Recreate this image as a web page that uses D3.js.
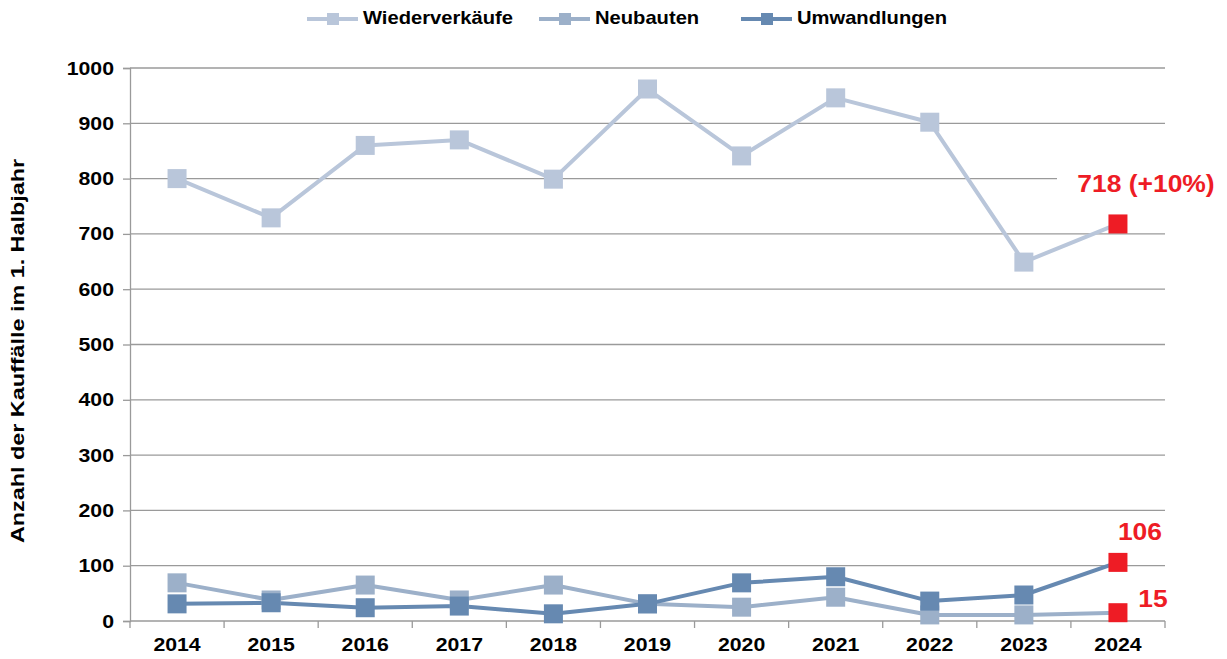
<!DOCTYPE html>
<html>
<head>
<meta charset="utf-8">
<script src="https://cdn.jsdelivr.net/npm/d3@7"></script>
<style>
  body { margin: 0; background: #fff; }
  svg { font-family: "Liberation Sans", Arial, sans-serif; }
</style>
</head>
<body>
<svg id="chart" width="1227" height="659"></svg>
<script>
const years = ["2014", "2015", "2016", "2017", "2018", "2019", "2020", "2021", "2022", "2023", "2024"];
const wiederverkaeufe = [800, 729, 860, 870, 799, 962, 841, 946, 902, 649, 718];
const neubauten = [69, 38, 65, 38, 65, 31, 25, 43, 11, 11, 15];
const umwandlungen = [31, 33, 24, 27, 13, 31, 69, 80, 36, 47, 106];
const yTicks = [0, 100, 200, 300, 400, 500, 600, 700, 800, 900, 1000];

const seriesNames = ["Wiederverkäufe", "Neubauten", "Umwandlungen"];
const seriesColors = ["#b9c6da", "#9cb0c9", "#6689b1"];
const highlight = "#ee1c25";

const svg = d3.select("#chart");
const margin = { top: 68, right: 62, bottom: 38, left: 130 };
const width = +svg.attr("width");
const height = +svg.attr("height");

const x = d3.scaleBand()
  .domain(years)
  .range([margin.left, width - margin.right]);

const y = d3.scaleLinear()
  .domain([0, 1000])
  .range([height - margin.bottom, margin.top]);

// grid
svg.append("g")
  .selectAll("line")
  .data(yTicks.slice(1))
  .join("line")
  .attr("x1", margin.left)
  .attr("x2", width - margin.right)
  .attr("y1", d => y(d))
  .attr("y2", d => y(d))
  .attr("stroke", "#9a9a9a")
  .attr("stroke-width", 1.3);

// y axis (labels a little wider than Liberation Sans, like the original)
svg.append("g")
  .attr("transform", `translate(${margin.left},0)`)
  .call(d3.axisLeft(y).tickValues(yTicks).tickFormat(d3.format("d")).tickSize(7).tickPadding(10))
  .call(g => g.selectAll(".domain, .tick line").attr("stroke", "#9a9a9a").attr("stroke-width", 1.3))
  .call(g => g.selectAll("text")
    .attr("font-size", 19).attr("font-weight", "bold").attr("fill", "#000")
    .attr("font-family", "'Liberation Sans', Arial, sans-serif")
    .attr("x", -16 / 1.12)
    .attr("transform", "scale(1.12,1)"));

// x axis
const xAxisG = svg.append("g")
  .attr("transform", `translate(0,${y(0)})`);
xAxisG.append("line")
  .attr("x1", margin.left).attr("x2", width - margin.right)
  .attr("stroke", "#9a9a9a").attr("stroke-width", 1.3);
xAxisG.selectAll(".tk")
  .data(years.concat(["end"]))
  .join("line")
  .attr("class", "tk")
  .attr("x1", (d, i) => margin.left + i * x.step())
  .attr("x2", (d, i) => margin.left + i * x.step())
  .attr("y1", 0).attr("y2", 7)
  .attr("stroke", "#9a9a9a").attr("stroke-width", 1.3);
xAxisG.selectAll("text")
  .data(years)
  .join("text")
  .attr("transform", d => `translate(${x(d) + x.bandwidth() / 2},30) scale(1.12,1)`)
  .attr("text-anchor", "middle")
  .attr("font-size", 19)
  .attr("font-weight", "bold")
  .text(d => d);

// y axis title
svg.append("text")
  .attr("transform", `translate(24,351) rotate(-90) scale(1.23,1)`)
  .attr("text-anchor", "middle")
  .attr("font-size", 19)
  .attr("font-weight", "bold")
  .text("Anzahl der Kauffälle im 1. Halbjahr");

// annotation background (covers gridline)
svg.append("rect")
  .attr("x", 1057).attr("y", 168)
  .attr("width", 165).attr("height", 30)
  .attr("fill", "#fff");

// series
const allSeries = [wiederverkaeufe, neubauten, umwandlungen];
const line = d3.line()
  .x((d, i) => x(years[i]) + x.bandwidth() / 2)
  .y(d => y(d));

const sq = 19;
allSeries.forEach((vals, si) => {
  svg.append("path")
    .datum(vals)
    .attr("fill", "none")
    .attr("stroke", seriesColors[si])
    .attr("stroke-width", 4)
    .attr("stroke-linejoin", "round")
    .attr("d", line);
});
allSeries.forEach((vals, si) => {
  svg.append("g")
    .selectAll("rect")
    .data(vals)
    .join("rect")
    .attr("x", (d, i) => x(years[i]) + x.bandwidth() / 2 - sq / 2)
    .attr("y", d => y(d) - sq / 2)
    .attr("width", sq)
    .attr("height", sq)
    .attr("fill", (d, i) => i === years.length - 1 ? highlight : seriesColors[si]);
});

// labels on last points
const lastX = x(years[years.length - 1]) + x.bandwidth() / 2;
const lastLabels = [
  { v: wiederverkaeufe[10], text: "718 (+10%)", dx: 28, dy: -38 },
  { v: umwandlungen[10], text: "106", dx: 22, dy: -28 },
  { v: neubauten[10], text: "15", dx: 35, dy: -12 }
];
svg.append("g")
  .selectAll("text")
  .data(lastLabels)
  .join("text")
  .attr("transform", d => `translate(${lastX + d.dx},${y(d.v) + d.dy}) scale(1.15,1)`)
  .attr("text-anchor", "middle")
  .attr("dominant-baseline", "middle")
  .attr("font-size", 23)
  .attr("font-weight", "bold")
  .attr("fill", highlight)
  .text(d => d.text);

// legend
const legendX = [307, 539, 741];
const legend = svg.append("g");
seriesNames.forEach((name, i) => {
  const g = legend.append("g").attr("transform", `translate(${legendX[i]},19)`);
  g.append("line").attr("x1", 0).attr("x2", 51)
    .attr("stroke", seriesColors[i]).attr("stroke-width", 4);
  g.append("rect").attr("x", 20).attr("y", -6).attr("width", 12).attr("height", 12)
    .attr("fill", seriesColors[i]);
  g.append("text")
    .attr("transform", "translate(56,0) scale(1.12,1)")
    .attr("dominant-baseline", "middle")
    .attr("font-size", 18).attr("font-weight", "bold")
    .text(name);
});
</script>
</body>
</html>
